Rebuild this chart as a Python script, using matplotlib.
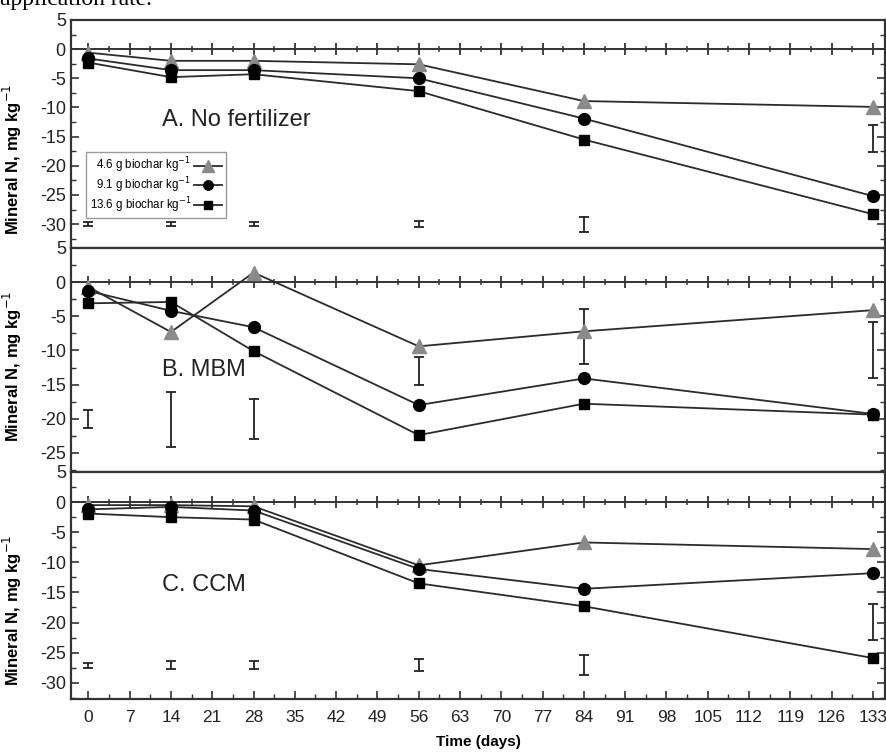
import numpy as np
import matplotlib.pyplot as plt
from matplotlib.ticker import MultipleLocator

plt.rcParams['font.family'] = ['Liberation Sans', 'DejaVu Sans']
plt.rcParams['axes.unicode_minus'] = False

# sampling days
days = [0, 14, 28, 56, 84, 133]
xticks = list(range(0, 134, 7))

series_labels = ['4.6 g biochar kg$^{-1}$', '9.1 g biochar kg$^{-1}$', '13.6 g biochar kg$^{-1}$']

# A. No fertilizer
a_low = [-0.6, -2.0, -2.0, -2.6, -8.9, -9.9]
a_mid = [-1.6, -3.6, -3.6, -5.0, -11.9, -25.2]
a_high = [-2.3, -4.8, -4.3, -7.2, -15.5, -28.3]
a_lsd_lo = [-30.4, -30.4, -30.4, -30.5, -31.4, -17.6]
a_lsd_hi = [-29.6, -29.6, -29.6, -29.5, -28.8, -13.0]

# B. MBM
b_low = [-0.7, -7.3, 1.4, -9.4, -7.2, -4.1]
b_mid = [-1.3, -4.2, -6.6, -18.0, -14.1, -19.3]
b_high = [-3.1, -2.9, -10.1, -22.4, -17.8, -19.4]
b_lsd_lo = [-21.4, -24.1, -23.0, -15.1, -12.0, -14.1]
b_lsd_hi = [-18.7, -16.1, -17.1, -11.0, -4.0, -5.9]

# C. CCM
c_low = [-0.5, -0.5, -0.7, -10.5, -6.7, -7.8]
c_mid = [-1.2, -0.8, -1.4, -11.1, -14.4, -11.8]
c_high = [-1.9, -2.5, -2.9, -13.5, -17.3, -25.9]
c_lsd_lo = [-27.5, -27.8, -27.8, -28.1, -28.7, -22.9]
c_lsd_hi = [-26.7, -26.4, -26.4, -26.1, -25.4, -17.0]

panels = [
    ('A. No fertilizer', a_low, a_mid, a_high, a_lsd_lo, a_lsd_hi, (-34.1, 5), -30, (-12.2, 0.39)),
    ('B. MBM', b_low, b_mid, b_high, b_lsd_lo, b_lsd_hi, (-27.8, 5), -25, (-12.9, 0.47)),
    ('C. CCM', c_low, c_mid, c_high, c_lsd_lo, c_lsd_hi, (-32.7, 5), -30, (-13.8, 0.39)),
]

fig = plt.figure(figsize=(8.86, 7.54), dpi=100)
W, H = 886.0, 754.0
left, right = 70.7 / W, 885.3 / W
edges = [20, 248, 472, 699]

line_col = '#2b2b2b'
spine_col = '#333333'

# caption line of the page, cut off by the crop
fig.text(0.0, 1 - 5 / H, 'application rate.', fontsize=17,
         family=['Liberation Serif', 'DejaVu Serif'], va='baseline', ha='left')

for i, (title, low, mid, high, lo, hi, ylim, ymin_tick, pos) in enumerate(panels):
    top_px, bot_px = edges[i], edges[i + 1]
    ax = fig.add_axes([left, 1 - bot_px / H, right - left, (bot_px - top_px) / H])
    ax.set_xlim(-3.0, 135.1)
    ax.set_ylim(*ylim)

    ax.plot(days, low, '-', color=line_col, lw=1.3, marker='^', ms=10,
            mfc='#8a8a8a', mec='#8a8a8a', label=series_labels[0], zorder=3)
    ax.plot(days, mid, '-', color=line_col, lw=1.3, marker='o', ms=8.5,
            mfc='black', mec='black', label=series_labels[1], zorder=4)
    ax.plot(days, high, '-', color=line_col, lw=1.3, marker='s', ms=7,
            mfc='black', mec='black', label=series_labels[2], zorder=4)

    center = [(a + b) / 2 for a, b in zip(lo, hi)]
    half = [(b - a) / 2 for a, b in zip(lo, hi)]
    ax.errorbar(days, center, yerr=half, fmt='none', ecolor='#222222',
                elinewidth=1.3, capsize=3.5, capthick=1.3)

    ax.text(12.5, pos[0], title, fontsize=17, va='center', ha='left', color='#222222')

    # y axis
    ax.set_yticks(np.arange(ymin_tick, 5.1, 5))
    ax.yaxis.set_minor_locator(MultipleLocator(2.5))
    ax.tick_params(axis='y', which='both', direction='in', left=True, right=True,
                   labelsize=13, colors=spine_col, labelcolor='#222222')
    ax.tick_params(axis='y', which='major', length=6, width=1.2)
    ax.tick_params(axis='y', which='minor', length=3.5, width=1.0)
    ax.set_ylabel('Mineral N, mg kg$^{-1}$', fontsize=12, fontweight='bold')
    ax.yaxis.set_label_coords(-0.057, pos[1])

    # zero line with crossing ticks
    zero_frac = (0 - ylim[0]) / (ylim[1] - ylim[0])
    zx = ax.secondary_xaxis(zero_frac)
    zx.set_xticks(xticks)
    zx.xaxis.set_minor_locator(MultipleLocator(3.5))
    zx.tick_params(which='both', direction='inout', labeltop=False, labelbottom=False,
                   colors=spine_col)
    zx.tick_params(which='major', length=9, width=1.3)
    zx.tick_params(which='minor', length=5, width=1.1)
    for s in zx.spines.values():
        s.set_linewidth(1.4)
        s.set_color(spine_col)

    for s in ax.spines.values():
        s.set_linewidth(1.6)
        s.set_color(spine_col)

    if i == 2:
        ax.set_xticks(xticks)
        ax.xaxis.set_minor_locator(MultipleLocator(3.5))
        ax.tick_params(axis='x', which='both', direction='in', labelsize=12.5,
                       colors=spine_col, labelcolor='#222222', pad=8)
        ax.tick_params(axis='x', which='major', length=6, width=1.2)
        ax.tick_params(axis='x', which='minor', length=3.5, width=1.0)
        ax.set_xlabel('Time (days)', fontsize=11, fontweight='bold', labelpad=7)
    else:
        ax.set_xticks([])

    if i == 0:
        leg = ax.legend(loc='upper left', bbox_to_anchor=(0.019, 0.42), fontsize=8.3,
                        markerfirst=False, fancybox=False, edgecolor='#999999',
                        framealpha=1, handlelength=2.4, borderpad=0.3,
                        labelspacing=0.02, handletextpad=0.3, borderaxespad=0,
                        markerscale=0.8)
        leg.get_frame().set_linewidth(1.0)

fig.savefig('out.png', dpi=100)
